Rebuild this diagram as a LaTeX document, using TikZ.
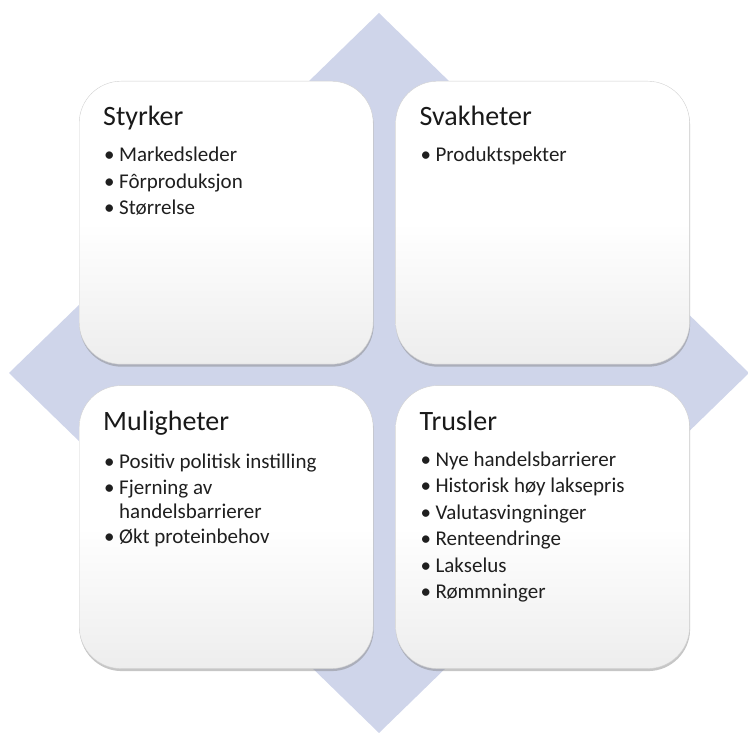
\documentclass[tikz,border=0pt]{standalone}
\usepackage{fontspec}
\setmainfont{Carlito}
\usepackage{tikz}
\usetikzlibrary{shadows, positioning}
\definecolor{diamondblue}{RGB}{207,213,234}
\pgfdeclareverticalshading{swotfill}{100bp}{color(0bp)=(black!14); color(50bp)=(white); color(100bp)=(white)}
\tikzstyle{quadrant} = [rectangle, draw=black!18, rounded corners=42pt, minimum width=294pt, minimum height=283pt, inner sep=0pt, shading=swotfill, drop shadow={shadow xshift=0.5pt, shadow yshift=-2.5pt, opacity=0.45}]
\tikzstyle{heading} = [anchor=base west, inner sep=0pt, font=\fontsize{28}{34}\selectfont, text=black!90]
\tikzstyle{points} = [anchor=base west, inner sep=0pt, font=\fontsize{21}{26.5}\selectfont, text=black!88]
\newcommand{\bullitem}{\makebox[15pt][l]{\textbullet}}
\newcommand{\bullgap}{\hspace*{15pt}}
\newcommand{\swotlist}[1]{\begin{tabular}[t]{@{}l@{}}#1\end{tabular}}

\begin{document}
\begin{tikzpicture}[x=1pt, y=1pt]
\useasboundingbox (0,0) rectangle (748,733);

% background diamond
\fill[diamondblue] (379,720) -- (749,360) -- (379,0) -- (9,360) -- cycle;

% the four quadrants
\node[quadrant, anchor=north west] (styrker) at (79,652) {};
\node[quadrant, right=22pt of styrker] (svakheter) {};
\node[quadrant, below=21pt of styrker] (muligheter) {};
\node[quadrant, right=22pt of muligheter] (trusler) {};

% headings
\node[heading] (styrker_title) at ([shift={(24,-45)}]styrker.north west) {Styrker};
\node[heading] (svakheter_title) at ([shift={(24,-45)}]svakheter.north west) {Svakheter};
\node[heading] (muligheter_title) at ([shift={(24,-45)}]muligheter.north west) {Muligheter};
\node[heading] (trusler_title) at ([shift={(24,-45)}]trusler.north west) {Trusler};

% bullet points
\node[points] (styrker_list) at ([shift={(25,-81)}]styrker.north west) {\swotlist{\bullitem Markedsleder\\\bullitem Fôrproduksjon\\\bullitem Størrelse}};
\node[points] (svakheter_list) at ([shift={(25,-81)}]svakheter.north west) {\swotlist{\bullitem Produktspekter}};
\node[points] (muligheter_list) at ([shift={(25,-83)}]muligheter.north west) {\swotlist{\bullitem Positiv politisk instilling\\\bullitem Fjerning av\\[-3pt]\bullgap handelsbarrierer\\[-1.5pt]\bullitem Økt proteinbehov}};
\node[points] (trusler_list) at ([shift={(25,-81)}]trusler.north west) {\swotlist{\bullitem Nye handelsbarrierer\\\bullitem Historisk høy laksepris\\\bullitem Valutasvingninger\\\bullitem Renteendringe\\\bullitem Lakselus\\\bullitem Rømmninger}};

\end{tikzpicture}
\end{document}
